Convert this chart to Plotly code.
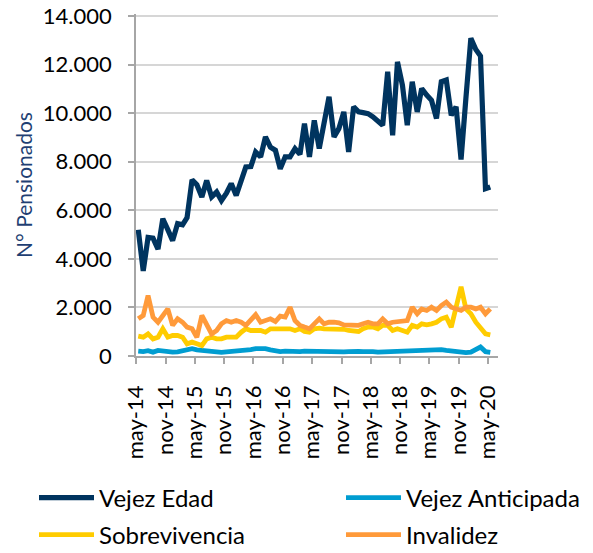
import pandas as pd
import plotly.graph_objects as go

# Monthly observations, may-14 .. may-20 (73 months)
months = pd.date_range("2014-05-01", periods=73, freq="MS")
dates = months + pd.Timedelta(days=14)

vejez_edad = [5200, 3500, 4880, 4850, 4400, 5650, 5200, 4750, 5450, 5400, 5700, 7250,
              7050, 6550, 7230, 6550, 6750, 6400, 6700, 7100, 6610, 7200, 7780, 7800,
              8400, 8200, 9020, 8600, 8470, 7710, 8200, 8200, 8540, 8300, 9570, 8200,
              9700, 8540, 9600, 10670, 9020, 9360, 10050, 8400, 10260, 10050, 10020, 9980,
              9850, 9700, 9500, 11700, 9090, 12110, 11150, 9500, 11290, 10050, 11010, 10740,
              10530, 9780, 11290, 11360, 9910, 10260, 8090, 10600, 13080, 12620, 12350, 6890,
              6960]

vejez_anticipada = [200, 180, 220, 160, 230, 200, 170, 160, 170, 200, 240, 300,
                    250, 220, 200, 190, 170, 150, 170, 180, 190, 200, 230, 260,
                    300, 310, 300, 250, 200, 180, 200, 190, 170, 180, 200, 190,
                    210, 200, 180, 170, 190, 180, 170, 180, 200, 190, 180, 200,
                    180, 160, 170, 150, 150, 160, 170, 180, 200, 210, 220, 240,
                    250, 260, 260, 230, 200, 170, 150, 140, 160, 280, 370, 180,
                    150]

sobrevivencia = [815, 775, 910, 705, 775, 1120, 775, 845, 845, 775, 500, 570,
                 500, 430, 705, 775, 705, 705, 775, 775, 775, 980, 1120, 1050,
                 1050, 1050, 980, 1120, 1120, 1120, 1120, 1120, 1050, 1120, 1010, 980,
                 1120, 1150, 1120, 1120, 1100, 1120, 1100, 1050, 1050, 1010, 1120, 1190,
                 1190, 1120, 1260, 1260, 1050, 1120, 1050, 980, 1260, 1190, 1325, 1280,
                 1325, 1390, 1530, 1600, 1190, 2080, 2850, 1940, 1740, 1390, 1190, 910,
                 870]

invalidez = [1530, 1670, 2490, 1600, 1390, 1650, 1940, 1260, 1530, 1390, 1190, 1120,
             775, 1670, 1260, 910, 1050, 1325, 1460, 1390, 1460, 1390, 1260, 1450,
             1700, 1390, 1460, 1530, 1420, 1640, 1600, 2010, 1460, 1260, 1190, 1120,
             1325, 1530, 1325, 1390, 1390, 1365, 1280, 1260, 1280, 1260, 1325, 1390,
             1325, 1325, 1530, 1325, 1390, 1420, 1440, 1460, 2010, 1740, 1940, 1875,
             2010, 1875, 2080, 2220, 2010, 1940, 1875, 2010, 2010, 1940, 2010, 1740,
             1940]

tick_dates = pd.date_range("2014-05-01", "2020-05-01", freq="6MS")
tick_labels = ["may-14", "nov-14", "may-15", "nov-15", "may-16", "nov-16", "may-17",
               "nov-17", "may-18", "nov-18", "may-19", "nov-19", "may-20"]
y_ticks = [0, 2000, 4000, 6000, 8000, 10000, 12000, 14000]
y_labels = ["0", "2.000", "4.000", "6.000", "8.000", "10.000", "12.000", "14.000"]

series = [
    ("Vejez Edad", vejez_edad, "#00345F", 5.2),
    ("Vejez Anticipada", vejez_anticipada, "#009DD1", 4.8),
    ("Sobrevivencia", sobrevivencia, "#FFCC00", 4.8),
    ("Invalidez", invalidez, "#FF9A3A", 4.8),
]
legend_ids = ["legend", "legend2", "legend3", "legend4"]
draw_order = [1, 2, 3, 0]

fig = go.Figure()
for k in draw_order:
    name, vals, col, lw = series[k]
    fig.add_trace(go.Scatter(x=dates, y=vals, mode="lines", name=name, showlegend=True,
                             line=dict(color=col, width=lw), legend=legend_ids[k]))

FONT = "Lato"
W, H = 593, 553
# legend anchor points (px within the figure): two columns, two rows
leg_pos = [(26, 490), (333, 490), (26, 527), (333, 527)]
legends = {}
for lid, (px, py) in zip(legend_ids, leg_pos):
    legends[lid] = dict(orientation="h", xref="container", yref="container",
                        x=px / W, y=1 - py / H, xanchor="left", yanchor="middle",
                        itemwidth=55,
                        font=dict(size=24, family=FONT, color="black"),
                        bgcolor="rgba(0,0,0,0)")

fig.update_layout(
    width=W, height=H, showlegend=True,
    margin=dict(l=128, r=103, t=6, b=205, autoexpand=False),
    paper_bgcolor="white", plot_bgcolor="white",
    font=dict(family=FONT, color="black"),
    xaxis=dict(type="date", range=["2014-05-01", "2020-07-02"],
               tickvals=tick_dates, ticktext=tick_labels, tickangle=-90,
               tickfont=dict(size=22, family=FONT, color="black"),
               ticklabelstandoff=13, ticklabeloverflow="allow",
               showgrid=False, showline=True, linecolor="#A6A6A6", linewidth=1.5,
               ticks="outside", ticklen=6, tickcolor="#A6A6A6", tickwidth=1.5,
               zeroline=False),
    yaxis=dict(range=[0, 14080], tickvals=y_ticks, ticktext=y_labels,
               tickfont=dict(size=22, family=FONT, color="black"),
               ticklabelstandoff=12, ticklabeloverflow="allow",
               showgrid=True, gridcolor="#D6D6D6", gridwidth=1.5,
               showline=True, linecolor="#A6A6A6", linewidth=1.5,
               ticks="outside", ticklen=6, tickcolor="#A6A6A6", tickwidth=1.5,
               zeroline=False,
               title=dict(text="N° Pensionados", font=dict(size=21, family=FONT, color="#1F3F73"),
                          standoff=4)),
    **legends,
)

fig.write_html("out.html")
